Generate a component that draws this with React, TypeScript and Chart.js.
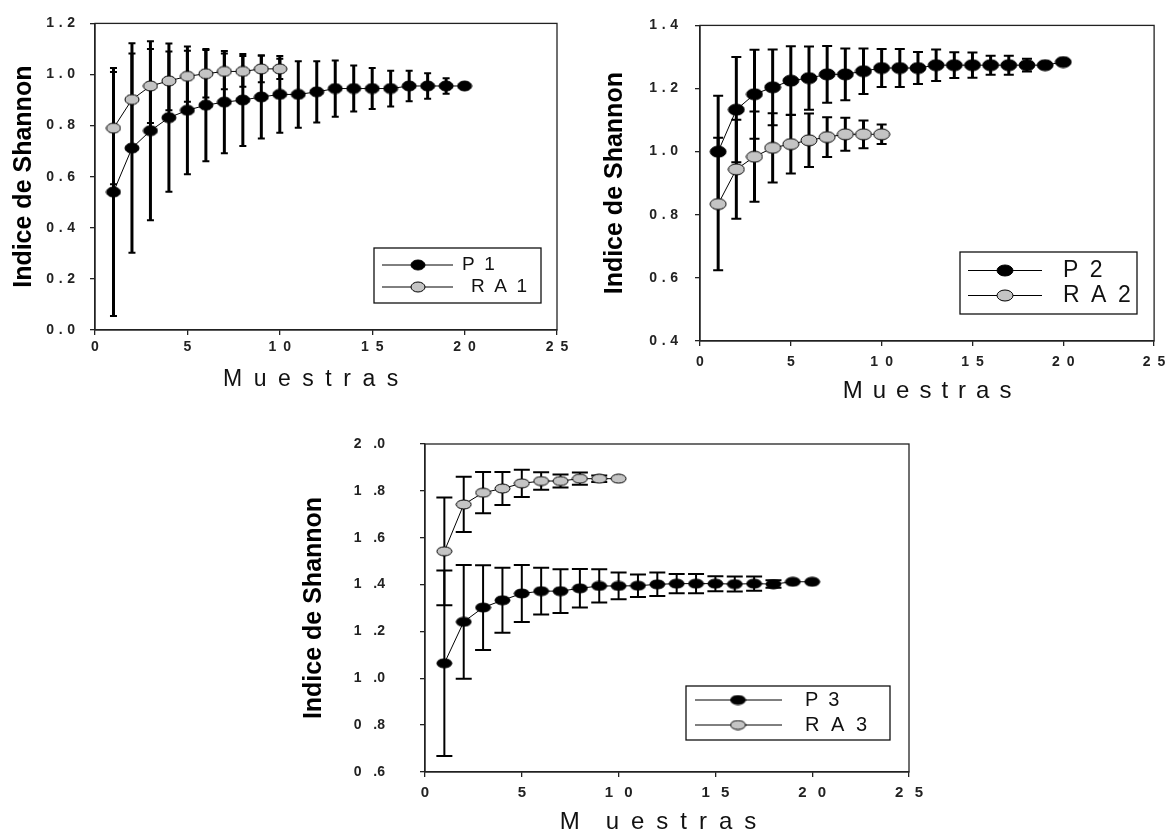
import React, { useEffect, useRef } from 'react';
import { Chart, registerables } from 'chart.js';

Chart.register(...registerables);

// ---------- data ----------
const muestrasP = [1, 2, 3, 4, 5, 6, 7, 8, 9, 10, 11, 12, 13, 14, 15, 16, 17, 18, 19, 20];
const muestrasRA = [1, 2, 3, 4, 5, 6, 7, 8, 9, 10];

const p1Mean = [0.54, 0.712, 0.78, 0.831, 0.86, 0.88, 0.892, 0.90, 0.912, 0.922, 0.922, 0.932, 0.945, 0.945, 0.945, 0.945, 0.955, 0.955, 0.955, 0.955];
const p1Err = [0.485, 0.41, 0.35, 0.29, 0.25, 0.22, 0.2, 0.18, 0.162, 0.15, 0.13, 0.12, 0.11, 0.09, 0.08, 0.07, 0.06, 0.05, 0.03, 0];
const ra1Mean = [0.79, 0.902, 0.955, 0.975, 0.993, 1.003, 1.012, 1.012, 1.022, 1.022];
const ra1Err = [0.22, 0.18, 0.145, 0.115, 0.1, 0.093, 0.07, 0.06, 0.052, 0.04];

const p2Mean = [1.0, 1.133, 1.182, 1.204, 1.225, 1.233, 1.245, 1.245, 1.255, 1.265, 1.265, 1.265, 1.274, 1.274, 1.274, 1.274, 1.274, 1.274, 1.274, 1.284];
const p2Err = [0.177, 0.167, 0.141, 0.12, 0.109, 0.1, 0.09, 0.082, 0.072, 0.06, 0.06, 0.051, 0.05, 0.041, 0.04, 0.03, 0.03, 0.02, 0.01, 0];
const ra2Mean = [0.834, 0.944, 0.984, 1.012, 1.024, 1.036, 1.046, 1.055, 1.055, 1.055];
const ra2Err = [0.21, 0.157, 0.143, 0.11, 0.093, 0.085, 0.063, 0.052, 0.044, 0.031];

const p3Mean = [1.064, 1.241, 1.302, 1.333, 1.362, 1.372, 1.372, 1.384, 1.394, 1.394, 1.395, 1.401, 1.404, 1.404, 1.404, 1.402, 1.404, 1.402, 1.412, 1.412];
const p3Err = [0.396, 0.243, 0.181, 0.139, 0.122, 0.1, 0.093, 0.082, 0.071, 0.057, 0.048, 0.05, 0.041, 0.041, 0.032, 0.032, 0.03, 0.016, 0, 0];
const ra3Mean = [1.542, 1.742, 1.792, 1.81, 1.832, 1.842, 1.842, 1.852, 1.852, 1.852];
const ra3Err = [0.23, 0.118, 0.088, 0.07, 0.058, 0.037, 0.028, 0.026, 0.014, 0];

const xTickValues = [0, 5, 10, 15, 20, 25];
const yTicks1 = [0, 0.2, 0.4, 0.6, 0.8, 1.0, 1.2];
const yTicks2 = [0.4, 0.6, 0.8, 1.0, 1.2, 1.4];
const yTicks3 = [0.6, 0.8, 1.0, 1.2, 1.4, 1.6, 1.8, 2.0];

const labelsP = ['P\u20021', 'P\u20022', 'P\u20023'];
const labelsRA = ['R\u2002A\u20021', 'R\u2002A\u20022', 'R\u2002\u200AA\u2002\u200A3'];
const yTitle = 'Indice de Shannon';

const FONT = "'Liberation Sans', Arial, Helvetica, sans-serif";

// ---------- helpers ----------
function ellipse(w: number, h: number, fill: string) {
  const c = document.createElement('canvas');
  c.width = w + 2;
  c.height = h + 2;
  const g = c.getContext('2d')!;
  g.beginPath();
  g.ellipse((w + 2) / 2, (h + 2) / 2, w / 2, h / 2, 0, 0, Math.PI * 2);
  g.fillStyle = fill;
  g.fill();
  g.lineWidth = 1;
  g.strokeStyle = '#000';
  g.stroke();
  return c;
}

const errorBarsPlugin = {
  id: 'errorBars',
  beforeDatasetsDraw(chart: any, _a: any, opts: any) {
    const ctx = chart.ctx;
    const xs = chart.scales.x;
    const ys = chart.scales.y;
    ctx.save();
    ctx.lineCap = 'butt';
    const ca = chart.chartArea;
    ctx.lineWidth = 1.3;
    ctx.strokeStyle = '#222';
    ctx.strokeRect(ca.left, ca.top, ca.right - ca.left, ca.bottom - ca.top);
    ctx.strokeStyle = '#000';
    chart.data.datasets.forEach((ds: any) => {
      ds.data.forEach((pt: any, i: number) => {
        const e = ds.errors[i];
        if (!e) return;
        const px = xs.getPixelForValue(pt.x);
        const top = ys.getPixelForValue(pt.y + e);
        const bot = ys.getPixelForValue(pt.y - e);
        ctx.lineWidth = opts.bar;
        ctx.beginPath();
        ctx.moveTo(px, top);
        ctx.lineTo(px, bot);
        ctx.stroke();
        ctx.lineWidth = opts.capThick;
        ctx.beginPath();
        ctx.moveTo(px - opts.cap / 2, top);
        ctx.lineTo(px + opts.cap / 2, top);
        ctx.moveTo(px - opts.cap / 2, bot);
        ctx.lineTo(px + opts.cap / 2, bot);
        ctx.stroke();
      });
    });
    ctx.restore();
  },
};

const boxLegendPlugin = {
  id: 'boxLegend',
  afterDraw(chart: any, _a: any, opts: any) {
    const ctx = chart.ctx;
    const [x0, y0, x1, y1] = opts.box;
    ctx.save();
    ctx.fillStyle = '#fff';
    ctx.fillRect(x0, y0, x1 - x0, y1 - y0);
    ctx.lineWidth = 1.3;
    ctx.strokeStyle = '#111';
    ctx.strokeRect(x0, y0, x1 - x0, y1 - y0);
    chart.data.datasets.forEach((ds: any, i: number) => {
      const row = opts.rows[i];
      ctx.lineWidth = 1;
      ctx.strokeStyle = '#000';
      ctx.beginPath();
      ctx.moveTo(opts.line[0], row.y);
      ctx.lineTo(opts.line[1], row.y);
      ctx.stroke();
      const img = ds.pointStyle;
      ctx.drawImage(img, opts.marker - img.width / 2, row.y - img.height / 2);
      ctx.fillStyle = '#111';
      ctx.font = `${opts.fontSize}px ${FONT}`;
      ctx.textBaseline = 'middle';
      ctx.textAlign = 'left';
      ctx.fillText(ds.label, row.x, row.y);
    });
    ctx.restore();
  },
};

type Panel = {
  L: number; R: number; T: number; B: number; W: number; H: number;
  yMin: number; yMax: number; yTicks: number[];
  yFmt: (v: number) => string; xFmt: (v: number) => string;
  yTickPad: number; xTickPad: number; tickFont: number;
  xTitle: string; xTitleSize: number;
  mw: number; mh: number; bar: number; cap: number;
  legend: any;
  pMean: number[]; pErr: number[]; raMean: number[]; raErr: number[];
  pLabel: string; raLabel: string;
};

const panels: Panel[] = [
  {
    L: 95, R: 557, T: 16, B: 330, W: 85.5, H: 63.8,
    yMin: 0, yMax: 1.2, yTicks: yTicks1,
    yFmt: (v) => v.toFixed(1).split('').join('\u2004'),
    xFmt: (v) => String(v).split('').join('\u2002'),
    yTickPad: 15, xTickPad: 3.6, tickFont: 14,
    xTitle: 'M\u2002u\u2002e\u2002s\u2002t\u2002r\u2002a\u2002s\u2003\u2004', xTitleSize: 23,
    mw: 14, mh: 10, bar: 3, cap: 7,
    legend: { box: [374, 248, 541, 303], rows: [{ y: 265, x: 462 }, { y: 287, x: 471 }], line: [382, 453], marker: 418, fontSize: 19 },
    pMean: p1Mean, pErr: p1Err, raMean: ra1Mean, raErr: ra1Err, pLabel: labelsP[0], raLabel: labelsRA[0],
  },
  {
    L: 700, R: 1156, T: 21, B: 341, W: 99.5, H: 64.4,
    yMin: 0.4, yMax: 1.4, yTicks: yTicks2,
    yFmt: (v) => v.toFixed(1).split('').join('\u2004'),
    xFmt: (v) => String(v).split('').join('\u2002'),
    yTickPad: 17, xTickPad: 7.6, tickFont: 14,
    xTitle: 'M\u2004\u200Au\u2004\u200Ae\u2004\u200As\u2004\u200At\u2004\u200Ar\u2004\u200Aa\u2004\u200As', xTitleSize: 24,
    mw: 16, mh: 11, bar: 3, cap: 10,
    legend: { box: [960, 252, 1137, 314], rows: [{ y: 270.5, x: 1063 }, { y: 295.5, x: 1063 }], line: [968, 1042], marker: 1005, fontSize: 23 },
    pMean: p2Mean, pErr: p2Err, raMean: ra2Mean, raErr: ra2Err, pLabel: labelsP[1], raLabel: labelsRA[1],
  },
  {
    L: 425, R: 909, T: 444, B: 772, W: 125.5, H: 64.4,
    yMin: 0.6, yMax: 2.0, yTicks: yTicks3,
    yFmt: (v) => { const s = v.toFixed(1); return s[0] + '\u2002\u2004' + s.slice(1); },
    xFmt: (v) => String(v).split('').join('\u2002\u2005'),
    yTickPad: 35, xTickPad: 7, tickFont: 15,
    xTitle: 'M\u2003\u200Au\u2002e\u2002s\u2002t\u2002r\u2002a\u2002s\u2002\u2005', xTitleSize: 24,
    mw: 15, mh: 9, bar: 2, cap: 16,
    legend: { box: [686, 686, 890, 740], rows: [{ y: 700, x: 805 }, { y: 725, x: 805 }], line: [695, 782], marker: 738, fontSize: 20 },
    pMean: p3Mean, pErr: p3Err, raMean: ra3Mean, raErr: ra3Err, pLabel: labelsP[2], raLabel: labelsRA[2],
  },
];

const PAGE_W = 1173;
const PAGE_H = 836;

function makeChart(canvas: HTMLCanvasElement, p: Panel) {
  const blackMarker = ellipse(p.mw, p.mh, '#000');
  const grayMarker = ellipse(p.mw, p.mh, '#c4c4c4');
  return new Chart(canvas, {
    type: 'line',
    data: {
      datasets: [
        {
          label: p.pLabel,
          data: muestrasP.map((x, i) => ({ x, y: p.pMean[i] })),
          errors: p.pErr,
          borderColor: '#000',
          borderWidth: 1,
          pointStyle: blackMarker,
          pointRadius: p.mw / 2,
          tension: 0,
        } as any,
        {
          label: p.raLabel,
          data: muestrasRA.map((x, i) => ({ x, y: p.raMean[i] })),
          errors: p.raErr,
          borderColor: '#000',
          borderWidth: 1,
          pointStyle: grayMarker,
          pointRadius: p.mw / 2,
          tension: 0,
        } as any,
      ],
    },
    options: {
      animation: false,
      responsive: false,
      maintainAspectRatio: false,
      events: [],
      layout: {
        padding: { left: p.L - p.W, top: p.T, right: PAGE_W - p.R, bottom: PAGE_H - p.B - p.H },
      },
      plugins: {
        legend: { display: false },
        tooltip: { enabled: false },
        errorBars: { bar: p.bar, cap: p.cap, capThick: 2 },
        boxLegend: p.legend,
      } as any,
      scales: {
        x: {
          type: 'linear',
          min: 0,
          max: 25,
          afterBuildTicks: (s: any) => { s.ticks = xTickValues.map((v) => ({ value: v })); },
          afterFit: (s: any) => { s.height = p.H; },
          ticks: {
            callback: (v: any) => p.xFmt(Number(v)),
            font: { family: FONT, size: p.tickFont, weight: 'bold' },
            color: '#222',
            padding: p.xTickPad,
            maxRotation: 0,
            autoSkip: false,
          },
          grid: { display: true, drawOnChartArea: false, drawTicks: true, tickLength: 5, color: '#222', lineWidth: 1.3 },
          border: { display: true, color: '#222', width: 1.3 },
          title: {
            display: true,
            text: p.xTitle,
            font: { family: FONT, size: p.xTitleSize, weight: 'normal' },
            color: '#111',
            padding: 0,
          },
        },
        y: {
          type: 'linear',
          min: p.yMin,
          max: p.yMax,
          afterBuildTicks: (s: any) => { s.ticks = p.yTicks.map((v) => ({ value: v })); },
          afterFit: (s: any) => { s.width = p.W; },
          ticks: {
            callback: (v: any) => p.yFmt(Number(v)),
            font: { family: FONT, size: 14, weight: 'bold' },
            color: '#222',
            padding: p.yTickPad,
            autoSkip: false,
          },
          grid: { display: true, drawOnChartArea: false, drawTicks: true, tickLength: 5, color: '#222', lineWidth: 1.3 },
          border: { display: true, color: '#222', width: 1.3 },
          title: {
            display: true,
            text: yTitle,
            font: { family: FONT, size: 25, weight: 'bold' },
            color: '#000',
            padding: 0,
          },
        },
      },
    } as any,
    plugins: [errorBarsPlugin, boxLegendPlugin],
  });
}

export default function App() {
  const r1 = useRef<HTMLCanvasElement>(null);
  const r2 = useRef<HTMLCanvasElement>(null);
  const r3 = useRef<HTMLCanvasElement>(null);

  useEffect(() => {
    const refs = [r1, r2, r3];
    const charts = refs.map((r, i) => makeChart(r.current!, panels[i]));
    return () => charts.forEach((c) => c.destroy());
  }, []);

  const cs: React.CSSProperties = { position: 'absolute', left: 0, top: 0, width: PAGE_W, height: PAGE_H };
  return (
    <div style={{ position: 'fixed', left: 0, top: 0, width: PAGE_W, height: PAGE_H, background: '#fff', overflow: 'hidden' }}>
      <canvas ref={r1} width={PAGE_W} height={PAGE_H} style={cs} />
      <canvas ref={r2} width={PAGE_W} height={PAGE_H} style={cs} />
      <canvas ref={r3} width={PAGE_W} height={PAGE_H} style={cs} />
    </div>
  );
}
